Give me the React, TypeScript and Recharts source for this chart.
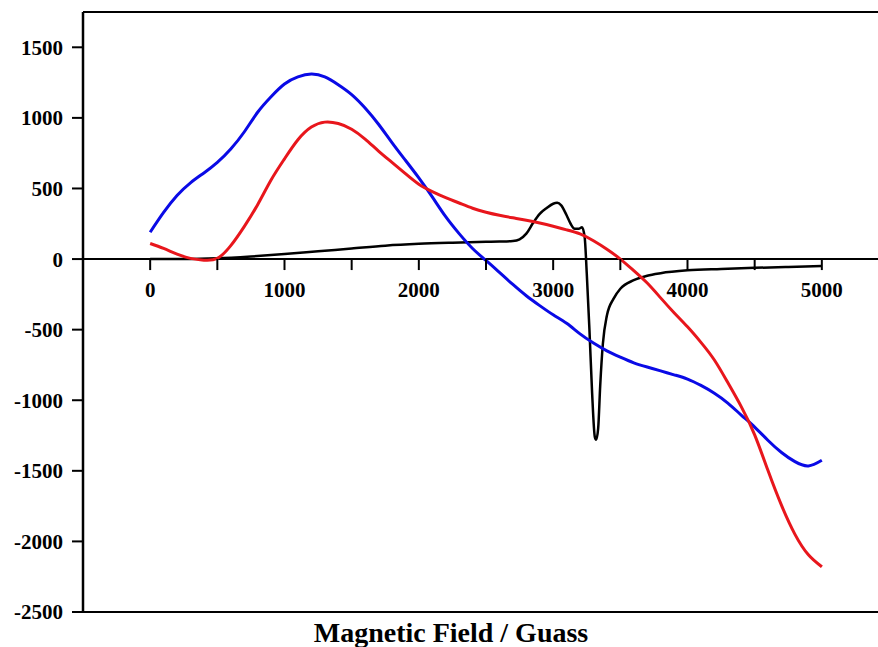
import React from "react";
import { LineChart, Line, XAxis, YAxis, ReferenceLine } from "recharts";

// field (G) sampled every 100 for the two broad curves
const broadField = [
  0, 100, 200, 300, 400, 500, 600, 700, 800, 900,
  1000, 1100, 1200, 1300, 1400, 1500, 1600, 1700, 1800, 1900,
  2000, 2100, 2200, 2300, 2400, 2500, 2600, 2700, 2800, 2900,
  3000, 3100, 3200, 3300, 3400, 3500, 3600, 3700, 3800, 3900,
  4000, 4100, 4200, 4300, 4400, 4500, 4600, 4700, 4800, 4900, 5000,
];

const blueSignal = [
  190, 330, 450, 540, 610, 685, 780, 900, 1040, 1150,
  1240, 1290, 1310, 1290, 1235, 1165, 1070, 955, 825, 700,
  575, 440, 300, 180, 75, -10, -95, -180, -260, -330,
  -395, -455, -530, -595, -650, -695, -735, -765, -792, -820,
  -850, -895, -950, -1020, -1105, -1190, -1285, -1370, -1435, -1465, -1425,
];

const redSignal = [
  110, 75, 35, 5, -8, 5, 95, 230, 385, 560,
  710, 845, 935, 970, 960, 920, 850, 765, 685, 605,
  530, 478, 435, 397, 360, 332, 310, 292, 275, 255,
  232, 207, 178, 130, 70, 0, -82, -170, -275, -380,
  -480, -590, -715, -875, -1045, -1245, -1500, -1745, -1950, -2095, -2180,
];

// narrow-line sample, denser around the resonance
const sharpField = [
  0, 250, 500, 750, 1000, 1250, 1500, 1750, 2000, 2250,
  2500, 2600, 2700, 2750, 2800, 2850, 2900, 2950, 3000, 3030,
  3060, 3100, 3130, 3160, 3190, 3215, 3235, 3250, 3270, 3290,
  3310, 3320, 3335, 3350, 3370, 3400, 3450, 3500, 3600, 3700,
  3800, 4000, 4250, 4500, 4750, 5000,
];

const blackSignal = [
  0, 0, 5, 18, 35, 55, 75, 95, 108, 116,
  122, 124, 128, 140, 180, 255, 320, 360, 392, 398,
  380, 310, 250, 215, 215, 225, 150, -100, -500, -950,
  -1260, -1280, -1200, -900, -600, -400, -280, -210, -150, -118,
  -100, -80, -70, -62, -56, -50,
];

const fieldTicks = [0, 500, 1000, 1500, 2000, 2500, 3000, 3500, 4000, 4500, 5000];
const signalTicks = [-2500, -2000, -1500, -1000, -500, 0, 500, 1000, 1500];

const Y_MIN = -2500;
const Y_MAX = 1750;
const PLOT_TOP = 12;
const PLOT_HEIGHT = 600;
const ZERO_OFFSET = ((0 - Y_MIN) / (Y_MAX - Y_MIN)) * PLOT_HEIGHT;

const FONT = "'Liberation Serif', 'Times New Roman', serif";

const toSeries = (xs: number[], ys: number[]) =>
  xs.map((field, i) => ({ field, value: ys[i] }));

const blueData = toSeries(broadField, blueSignal);
const redData = toSeries(broadField, redSignal);
const blackData = toSeries(sharpField, blackSignal);

// ticks sit on the zero line, not on the bottom frame
const FieldTick = (props: any) => {
  const { x, y, payload } = props;
  const zeroY = y - ZERO_OFFSET;
  return (
    <g>
      <line x1={x} x2={x} y1={zeroY} y2={zeroY + 11} stroke="#000" strokeWidth={2} />
      {payload.value % 1000 === 0 && (
        <text
          x={x}
          y={zeroY + 38}
          textAnchor="middle"
          fontFamily={FONT}
          fontWeight="bold"
          fontSize={21}
          fill="#000"
        >
          {payload.value}
        </text>
      )}
    </g>
  );
};

const AxisTitle = () => (
  <text
    x={451}
    y={642}
    textAnchor="middle"
    fontFamily={FONT}
    fontWeight="bold"
    fontSize={28}
    fill="#000"
  >
    Magnetic Field / Guass
  </text>
);

export default function App() {
  return (
    <div
      style={{
        position: "absolute",
        left: 0,
        top: 0,
        width: 878,
        height: 647,
        overflow: "hidden",
        background: "#fff",
      }}
    >
      <LineChart
        width={900}
        height={647}
        margin={{ top: PLOT_TOP, right: 11, bottom: 0, left: 0 }}
      >
        <XAxis
          type="number"
          dataKey="field"
          domain={[-500, 5500]}
          allowDataOverflow
          ticks={fieldTicks}
          interval={0}
          height={35}
          tickSize={0}
          tickMargin={0}
          tickLine={false}
          tick={<FieldTick />}
          axisLine={{ stroke: "#000", strokeWidth: 2 }}
          label={{ content: <AxisTitle /> }}
        />
        <YAxis
          type="number"
          domain={[Y_MIN, Y_MAX]}
          allowDataOverflow
          ticks={signalTicks}
          interval={0}
          width={83}
          tickSize={11}
          tickMargin={9}
          axisLine={{ stroke: "#000", strokeWidth: 2.5 }}
          tickLine={{ stroke: "#000", strokeWidth: 2 }}
          tick={{ fontFamily: FONT, fontWeight: "bold", fontSize: 21, fill: "#000" }}
        />
        <ReferenceLine y={0} stroke="#000" strokeWidth={2} />
        <ReferenceLine y={Y_MAX} stroke="#000" strokeWidth={2} />
        <Line
          data={blackData}
          dataKey="value"
          type="monotone"
          stroke="#000"
          strokeWidth={2.5}
          dot={false}
          isAnimationActive={false}
        />
        <Line
          data={blueData}
          dataKey="value"
          type="natural"
          stroke="#0a0ae6"
          strokeWidth={3}
          dot={false}
          isAnimationActive={false}
        />
        <Line
          data={redData}
          dataKey="value"
          type="natural"
          stroke="#e8161c"
          strokeWidth={3}
          dot={false}
          isAnimationActive={false}
        />
      </LineChart>
    </div>
  );
}
